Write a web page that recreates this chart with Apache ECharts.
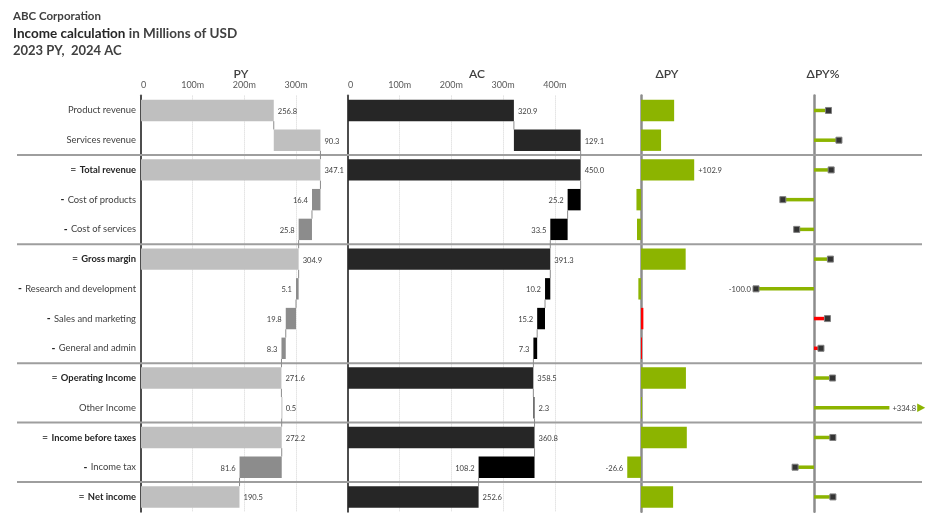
<!DOCTYPE html>
<html>
<head>
<meta charset="utf-8">
<script src="https://cdn.jsdelivr.net/npm/echarts@6/dist/echarts.min.js"></script>
<style>
  html, body { margin: 0; padding: 0; background: #fff; }
  #chart { width: 937px; height: 532px; }
</style>
</head>
<body>
<div id="chart"></div>
<script>
// rows of the income statement
const categories = ['Product revenue', 'Services revenue', 'Total revenue', 'Cost of products', 'Cost of services',
  'Gross margin', 'Research and development', 'Sales and marketing', 'General and admin', 'Operating Income',
  'Other Income', 'Income before taxes', 'Income tax', 'Net income'];
// add = adds to the running sum, sub = subtracts, total = result row
const rowTypes = ['add', 'add', 'total', 'sub', 'sub', 'total', 'sub', 'sub', 'sub', 'total', 'add', 'total', 'sub', 'total'];
const pyValues = [256.8, 90.3, 347.1, 16.4, 25.8, 304.9, 5.1, 19.8, 8.3, 271.6, 0.5, 272.2, 81.6, 190.5];
const acValues = [320.9, 129.1, 450.0, 25.2, 33.5, 391.3, 10.2, 15.2, 7.3, 358.5, 2.3, 360.8, 108.2, 252.6];
const deltaPY = [64.1, 38.8, 102.9, -8.8, -7.7, 86.4, -5.1, 4.6, 1.0, 86.9, 1.8, 88.6, -26.6, 62.1];
const deltaPYPct = [25.0, 43.0, 29.6, -53.7, -29.8, 28.3, -100.0, 23.2, 12.0, 32.0, 334.8, 32.5, -32.6, 32.6];
const pyTicks = [0, 100, 200, 300];
const acTicks = [0, 100, 200, 300, 400];

const FONT = "'Segoe UI', Lato, 'Open Sans', sans-serif";
const GREEN = '#8cb400';
const RED = '#ff0000';
const TXT = '#404040';
const VALUE_FONT = '7.6px ' + FONT;

const gridTop = 95.6;
const gridH = 416.2;
const pctMin = -200;
const pctMax = 130;

// waterfall start/end for each row
function waterfall(values) {
  let run = 0;
  return values.map((v, i) => {
    let s, e;
    if (rowTypes[i] === 'total') { s = 0; e = v; run = v; }
    else if (rowTypes[i] === 'sub') { s = run - v; e = run; run = s; }
    else { s = run; e = run + v; run = e; }
    return [i, s, e, v, run];
  });
}

function signed(v) {
  return (v > 0 ? '+' : '') + v.toFixed(1);
}

function isGood(i) {
  return acValues[i] >= pyValues[i];
}

function argMax(arr) { return arr.indexOf(Math.max.apply(null, arr)); }
function argMin(arr) { return arr.indexOf(Math.min.apply(null, arr)); }

const measureCtx = document.createElement('canvas').getContext('2d');
function textWidth(t, font) {
  measureCtx.font = font;
  return measureCtx.measureText(t).width;
}

function txt(x, y, text, align) {
  return {
    type: 'text',
    x: x, y: y,
    style: {
      text: text,
      fill: TXT,
      font: VALUE_FONT,
      align: align, textAlign: align,
      verticalAlign: 'middle', textVerticalAlign: 'middle'
    }
  };
}

function waterfallRenderer(totalColor, subColor, data) {
  return function (params, api) {
    const i = params.dataIndex;
    const s = api.value(1);
    const e = api.value(2);
    const run = api.value(4);
    const p0 = api.coord([s, i]);
    const p1 = api.coord([e, i]);
    const band = api.size([0, 1])[1];
    const h = band * 0.72;
    const isSub = rowTypes[i] === 'sub';
    const children = [{
      type: 'rect',
      shape: { x: p0[0], y: p0[1] - h / 2, width: Math.max(p1[0] - p0[0], 1), height: h },
      style: { fill: isSub ? subColor : totalColor }
    }];
    const label = api.value(3).toFixed(1);
    if (isSub) children.push(txt(p0[0] - 4, p0[1] + 1, label, 'right'));
    else children.push(txt(p1[0] + 4, p1[1] + 1, label, 'left'));
    if (i < data.length - 1) {
      const c = api.coord([run, i]);
      children.push({
        type: 'line',
        shape: { x1: c[0], y1: c[1] + h / 2, x2: c[0], y2: c[1] + band - h / 2 },
        style: { stroke: '#8c8c8c', lineWidth: 1 }
      });
    }
    return { type: 'group', children: children };
  };
}

const pyData = waterfall(pyValues);
const acData = waterfall(acValues);
const dMax = argMax(deltaPY), dMin = argMin(deltaPY);
const pMax = argMax(deltaPYPct), pMin = argMin(deltaPYPct);

function renderDelta(params, api) {
  const i = params.dataIndex;
  const v = api.value(1);
  const p0 = api.coord([0, i]);
  const p1 = api.coord([v, i]);
  const h = api.size([0, 1])[1] * 0.72;
  const children = [{
    type: 'rect',
    shape: { x: Math.min(p0[0], p1[0]), y: p0[1] - h / 2, width: Math.max(Math.abs(p1[0] - p0[0]), 1), height: h },
    style: { fill: isGood(i) ? GREEN : RED }
  }];
  if (i === dMax || i === dMin) {
    if (v >= 0) children.push(txt(p1[0] + 4, p1[1] + 1, signed(v), 'left'));
    else children.push(txt(p1[0] - 4, p1[1] + 1, signed(v), 'right'));
  }
  return { type: 'group', children: children };
}

function renderPct(params, api) {
  const i = params.dataIndex;
  const v = api.value(1);
  const cv = Math.max(pctMin, Math.min(pctMax, v));
  const clipped = cv !== v;
  const p0 = api.coord([0, i]);
  const p1 = api.coord([cv, i]);
  const color = isGood(i) ? GREEN : RED;
  const children = [{
    type: 'rect',
    shape: { x: Math.min(p0[0], p1[0]), y: p0[1] - 1.75, width: Math.abs(p1[0] - p0[0]), height: 3.5 },
    style: { fill: color }
  }];
  if (!clipped) {
    children.push({
      type: 'rect',
      shape: { x: p1[0] - 3, y: p1[1] - 3, width: 6, height: 6 },
      style: { fill: '#333333', stroke: '#808080', lineWidth: 1 }
    });
  }
  if (i === pMax || i === pMin) {
    const label = signed(v);
    if (clipped) {
      children.push(txt(p1[0] + 3, p1[1] + 1, label, 'left'));
      const x0 = p1[0] + 4 + textWidth(label, VALUE_FONT);
      children.push({
        type: 'polygon',
        shape: { points: [[x0, p1[1] - 4.2], [x0 + 8, p1[1]], [x0, p1[1] + 4.2]] },
        style: { fill: color }
      });
    } else if (v >= 0) {
      children.push(txt(p1[0] + 6, p1[1] + 1, label, 'left'));
    } else {
      children.push(txt(p1[0] - 5, p1[1] + 1, label, 'right'));
    }
  }
  return { type: 'group', children: children };
}

function separatorRender(params, api) {
  const y = api.value(1);
  const a = api.coord([0, y]);
  const b = api.coord([1, y]);
  return {
    type: 'line',
    shape: { x1: a[0], y1: a[1], x2: b[0], y2: b[1] },
    style: { stroke: '#9e9e9e', lineWidth: 2 }
  };
}

const separators = [];
rowTypes.forEach((t, i) => { if (t === 'total') separators.push([0, i]); });

function valueAxis(gridIndex, min, max, ticks) {
  return {
    type: 'value', gridIndex: gridIndex, position: 'top', min: min, max: max, interval: 100,
    axisLine: { show: false }, axisTick: { show: false },
    axisLabel: {
      show: !!ticks, margin: 6, fontSize: 9, color: '#595959', fontFamily: FONT,
      showMaxLabel: false, alignMinLabel: 'left',
      formatter: v => (v === 0 ? '0' : v + 'm')
    },
    splitLine: {
      show: !!ticks, showMinLine: false, showMaxLine: false,
      lineStyle: { type: 'dotted', color: '#d4d4d4', width: 1 }
    }
  };
}

function hiddenValueAxis(gridIndex, min, max) {
  return {
    type: 'value', gridIndex: gridIndex, min: min, max: max,
    axisLine: { show: false }, axisTick: { show: false }, axisLabel: { show: false }, splitLine: { show: false }
  };
}

function catAxis(gridIndex, lineColor, lineWidth, showLabels) {
  return {
    type: 'category', gridIndex: gridIndex, inverse: true, data: categories,
    axisTick: { show: false },
    axisLine: { show: true, onZero: true, lineStyle: { color: lineColor, width: lineWidth } },
    axisLabel: showLabels ? {
      margin: 5,
      formatter: (val, idx) => {
        const t = rowTypes[idx];
        if (t === 'total') return '{eq|=} {bold|' + val + '}';
        if (t === 'sub') return '{dash|-} {norm|' + val + '}';
        return '{norm|' + val + '}';
      },
      rich: {
        norm: { fontSize: 9.4, color: TXT, fontFamily: FONT },
        bold: { fontSize: 9.4, color: '#262626', fontWeight: 'bold', fontFamily: FONT },
        eq: { fontSize: 10.5, color: '#595959', fontFamily: FONT },
        dash: { fontSize: 10.5, color: '#262626', fontWeight: 'bold', fontFamily: FONT }
      }
    } : { show: false }
  };
}

const headerStyle = { fontSize: 12, fontWeight: 600, color: TXT, fontFamily: FONT };

const option = {
  animation: false,
  backgroundColor: '#ffffff',
  title: [
    {
      left: 13, top: 8, padding: 0,
      text: '{a|ABC Corporation}\n{b|Income calculation}{c| in Millions of USD}\n{d|2023 PY,  2024 AC}',
      textStyle: {
        rich: {
          a: { fontSize: 11.5, color: TXT, fontFamily: FONT, lineHeight: 17 },
          b: { fontSize: 13.5, color: '#262626', fontWeight: 'bold', fontFamily: FONT, lineHeight: 17 },
          c: { fontSize: 13.5, color: TXT, fontFamily: FONT, lineHeight: 17 },
          d: { fontSize: 13, color: TXT, fontFamily: FONT, lineHeight: 17 }
        }
      }
    },
    { left: 241, top: 68, padding: 0, textAlign: 'center', text: 'PY', textStyle: headerStyle },
    { left: 477, top: 68, padding: 0, textAlign: 'center', text: 'AC', textStyle: headerStyle },
    { left: 667, top: 68, padding: 0, textAlign: 'center', text: 'ΔPY', textStyle: headerStyle },
    { left: 823, top: 68, padding: 0, textAlign: 'center', text: 'ΔPY%', textStyle: headerStyle }
  ],
  grid: [
    { left: 17, width: 905, top: gridTop, height: gridH, outerBoundsMode: 'none' },
    { left: 141, width: 400 * 0.517, top: gridTop, height: gridH, outerBoundsMode: 'none' },
    { left: 348, width: 500 * 0.517, top: gridTop, height: gridH, outerBoundsMode: 'none' },
    { left: 641 - 80 * 0.517, width: 240 * 0.517, top: gridTop, height: gridH, outerBoundsMode: 'none' },
    { left: 814 + pctMin * 0.58, width: (pctMax - pctMin) * 0.58, top: gridTop, height: gridH, outerBoundsMode: 'none' }
  ],
  xAxis: [
    hiddenValueAxis(0, 0, 1),
    valueAxis(1, 0, 400, pyTicks),
    valueAxis(2, 0, 500, acTicks),
    hiddenValueAxis(3, -80, 160),
    hiddenValueAxis(4, pctMin, pctMax)
  ],
  yAxis: [
    { type: 'value', gridIndex: 0, min: 0, max: categories.length, inverse: true, show: false },
    catAxis(1, '#4d4d4d', 2, true),
    catAxis(2, '#4d4d4d', 2, false),
    catAxis(3, '#8c8c8c', 2.5, false),
    catAxis(4, '#8c8c8c', 2.5, false)
  ],
  series: [
    {
      type: 'custom', name: 'separators', xAxisIndex: 0, yAxisIndex: 0, z: 1,
      data: separators, encode: { x: 0, y: 1 }, renderItem: separatorRender, silent: true
    },
    {
      type: 'custom', name: 'PY', xAxisIndex: 1, yAxisIndex: 1, z: 3,
      data: pyData, encode: { x: [1, 2], y: 0 },
      renderItem: waterfallRenderer('#bfbfbf', '#8c8c8c', pyData)
    },
    {
      type: 'custom', name: 'AC', xAxisIndex: 2, yAxisIndex: 2, z: 3,
      data: acData, encode: { x: [1, 2], y: 0 },
      renderItem: waterfallRenderer('#262626', '#000000', acData)
    },
    {
      type: 'custom', name: 'ΔPY', xAxisIndex: 3, yAxisIndex: 3, z: 3,
      data: deltaPY.map((v, i) => [i, v]), encode: { x: 1, y: 0 },
      renderItem: renderDelta
    },
    {
      type: 'custom', name: 'ΔPY%', xAxisIndex: 4, yAxisIndex: 4, z: 3,
      data: deltaPYPct.map((v, i) => [i, v]), encode: { x: 1, y: 0 },
      renderItem: renderPct
    }
  ]
};

const chart = echarts.init(document.getElementById('chart'));
chart.setOption(option);
</script>
</body>
</html>
